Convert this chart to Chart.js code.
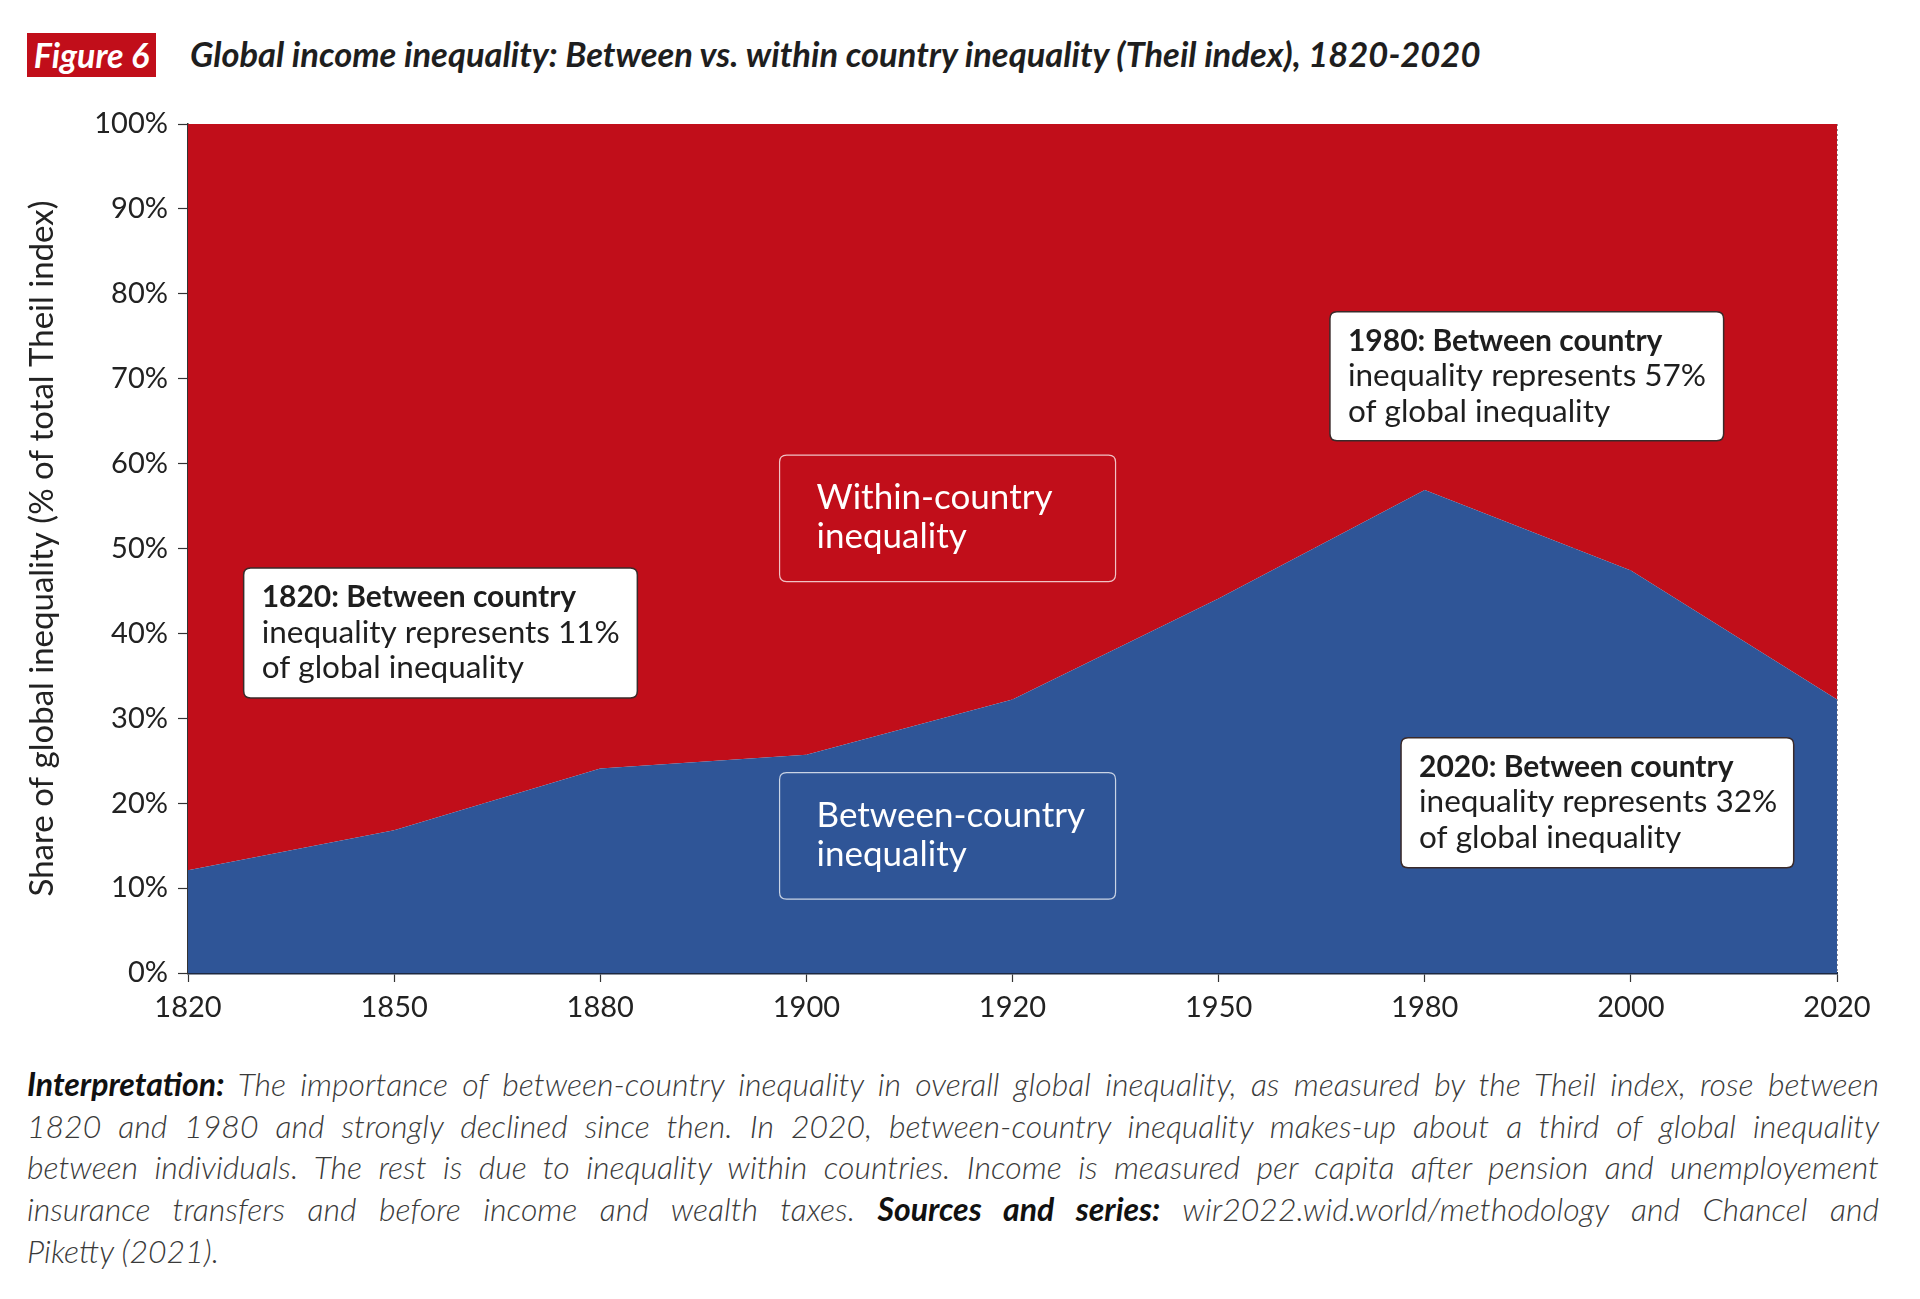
<!DOCTYPE html>
<html>
<head>
<meta charset="utf-8">
<script src="https://cdn.jsdelivr.net/npm/chart.js@4/dist/chart.umd.min.js"></script>
<style>
  body { margin: 0; background: #fff; width: 1920px; height: 1299px; position: relative; overflow: hidden; font-family: Lato, "Noto Sans", sans-serif; color: #222; }
  #figTag { position: absolute; left: 27px; top: 33px; width: 129px; height: 44px; background: #c10e1a; color: #fff;
            font: italic bold 34px Lato, sans-serif; line-height: 44px; text-align: center; }
  #title { position: absolute; left: 190px; top: 33px; height: 44px; line-height: 44px; font: italic bold 34.5px Lato, sans-serif; color: #1e1e1e; white-space: nowrap; }
  #chartBox { position: absolute; left: 0; top: 0; width: 1920px; height: 1040px; }
  #notes { position: absolute; left: 27px; top: 1063px; width: 1852px; font: italic 300 32px Lato, sans-serif; line-height: 41.7px; color: #3a3a3a; }
  #notes div { text-align: justify; text-align-last: justify; white-space: nowrap; }
  #notes div.last { text-align-last: left; }
  #notes b { font-weight: bold; color: #111; }
</style>
</head>
<body>
<div id="figTag">Figure 6</div>
<div id="title">Global income inequality: Between vs. within country inequality (Theil index), 1820-2020</div>
<div id="chartBox"><canvas id="chart"></canvas></div>
<div id="notes">
  <div><b>Interpretation:</b> The importance of between-country inequality in overall global inequality, as measured by the Theil index, rose between</div>
  <div>1820 and 1980 and strongly declined since then. In 2020, between-country inequality makes-up about a third of global inequality</div>
  <div>between individuals. The rest is due to inequality within countries. Income is measured per capita after pension and unemployement</div>
  <div>insurance transfers and before income and wealth taxes. <b>Sources and series:</b> wir2022.wid.world/methodology and Chancel and</div>
  <div class="last">Piketty (2021).</div>
</div>

<script>
/* ---------- DATA ---------- */
const years = ["1820", "1850", "1880", "1900", "1920", "1950", "1980", "2000", "2020"];
const betweenShare = [12.1, 16.8, 24.1, 25.7, 32.2, 44.1, 56.9, 47.4, 32.2];
const withinShare = [87.9, 83.2, 75.9, 74.3, 67.8, 55.9, 43.1, 52.6, 67.8];
const yTicks = [0, 10, 20, 30, 40, 50, 60, 70, 80, 90, 100];

const RED = "#c10e1a";
const BLUE = "#2f5597";

/* ---------- ANNOTATION BOXES (anchored in data units) ---------- */
// x in category index, y in percent
const notes = [
    { x0: 0.27, x1: 2.18, y0: 47.7, y1: 32.4, style: "white",
      lines: ["1820: Between country", "inequality represents 11%", "of global inequality"] },
    { x0: 5.54, x1: 7.45, y0: 77.9, y1: 62.7, style: "white",
      lines: ["1980: Between country", "inequality represents 57%", "of global inequality"] },
    { x0: 5.885, x1: 7.79, y0: 27.7, y1: 12.4, style: "white",
      lines: ["2020: Between country", "inequality represents 32%", "of global inequality"] },
    { x0: 2.87, x1: 4.50, y0: 61.0, y1: 46.1, style: "red",
      lines: ["Within-country", "inequality"] },
    { x0: 2.87, x1: 4.50, y0: 23.6, y1: 8.7, style: "blue",
      lines: ["Between-country", "inequality"] }
];

function roundRect(ctx, x, y, w, h, r) {
    ctx.beginPath();
    ctx.moveTo(x + r, y);
    ctx.lineTo(x + w - r, y);
    ctx.quadraticCurveTo(x + w, y, x + w, y + r);
    ctx.lineTo(x + w, y + h - r);
    ctx.quadraticCurveTo(x + w, y + h, x + w - r, y + h);
    ctx.lineTo(x + r, y + h);
    ctx.quadraticCurveTo(x, y + h, x, y + h - r);
    ctx.lineTo(x, y + r);
    ctx.quadraticCurveTo(x, y, x + r, y);
    ctx.closePath();
}

const notesPlugin = {
    id: "notes",
    afterDraw(chart) {
        const ctx = chart.ctx;
        const xs = chart.scales.x, ys = chart.scales.y;
        notes.forEach(n => {
            const left = xs.getPixelForValue(n.x0);
            const right = xs.getPixelForValue(n.x1);
            const top = ys.getPixelForValue(n.y0);
            const bottom = ys.getPixelForValue(n.y1);
            ctx.save();
            roundRect(ctx, left, top, right - left, bottom - top, 7);
            ctx.textBaseline = "alphabetic";
            if (n.style === "white") {
                ctx.fillStyle = "#fff";
                ctx.fill();
                ctx.lineWidth = 1.5;
                ctx.strokeStyle = "#3a2a2a";
                ctx.stroke();
                ctx.fillStyle = "#1e1e1e";
                n.lines.forEach((t, i) => {
                    ctx.font = (i === 0 ? "bold 30px " : "31.5px ") + "Lato, sans-serif";
                    ctx.fillText(t, left + 18, top + 39 + i * 35.6);
                });
            } else {
                ctx.fillStyle = n.style === "red" ? RED : BLUE;
                ctx.fill();
                ctx.lineWidth = 1.2;
                ctx.strokeStyle = "rgba(255,255,255,0.75)";
                ctx.stroke();
                ctx.fillStyle = "#fff";
                ctx.font = "35px Lato, sans-serif";
                n.lines.forEach((t, i) => {
                    ctx.fillText(t, left + 37, top + 54 + i * 39);
                });
            }
            ctx.restore();
        });
    }
};

/* ---------- CHART ---------- */
const ctx = document.getElementById("chart").getContext("2d");
new Chart(ctx, {
    type: "line",
    data: {
        labels: years,
        datasets: [
            {
                label: "Between-country inequality",
                data: betweenShare,
                backgroundColor: BLUE,
                borderWidth: 0,
                pointRadius: 0,
                fill: "origin",
                tension: 0
            },
            {
                label: "Within-country inequality",
                data: withinShare,
                backgroundColor: RED,
                borderWidth: 0,
                pointRadius: 0,
                fill: "-1",
                tension: 0
            }
        ]
    },
    options: {
        responsive: true,
        maintainAspectRatio: false,
        animation: false,
        layout: { padding: { top: 124, right: 83, bottom: 0, left: 0 } },
        plugins: {
            legend: { display: false },
            tooltip: { enabled: false }
        },
        scales: {
            x: {
                type: "category",
                offset: false,
                z: 1,
                afterFit(scale) { scale.height = 1040 - 973; },
                grid: {
                    color: "rgba(20,20,30,0.45)",
                    lineWidth: 1,
                    tickLength: 9,
                    tickColor: "#333",
                    tickWidth: 1.2
                },
                border: { display: true, color: "#1d2840", width: 2.5, dash: [2, 3] },
                ticks: {
                    color: "#222",
                    font: { family: "Lato, sans-serif", size: 29 },
                    padding: 8,
                    maxRotation: 0,
                    autoSkip: false
                }
            },
            y: {
                stacked: true,
                min: 0,
                max: 100,
                z: 1,
                afterFit(scale) { scale.width = 188; },
                afterBuildTicks(scale) { scale.ticks = yTicks.map(v => ({ value: v })); },
                grid: {
                    color: "rgba(20,20,30,0.45)",
                    lineWidth: 1,
                    tickLength: 10,
                    tickColor: "#333",
                    tickWidth: 1.2
                },
                border: { display: true, color: "#333", width: 1.5, dash: [2, 3] },
                ticks: {
                    color: "#222",
                    font: { family: "Lato, sans-serif", size: 29 },
                    padding: 10,
                    callback: v => v + "%"
                },
                title: {
                    display: true,
                    text: "Share of global inequality (% of total Theil index)",
                    color: "#222",
                    font: { family: "Lato, sans-serif", size: 33 },
                    padding: { top: 23, bottom: 0 }
                }
            }
        }
    },
    plugins: [notesPlugin]
});
</script>
</body>
</html>
